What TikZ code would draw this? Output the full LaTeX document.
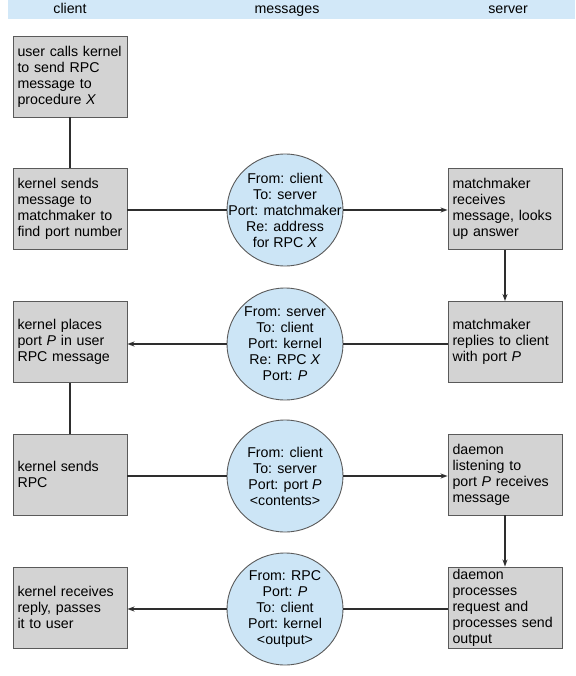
\documentclass[tikz,border=0pt]{standalone}
\usepackage{fontspec}
\setmainfont{Liberation Sans}
\usetikzlibrary{shapes.geometric,arrows.meta}
\definecolor{boxfill}{HTML}{D3D3D3}
\definecolor{boxline}{HTML}{5A5A5A}
\definecolor{msgfill}{HTML}{CCE5F6}
\definecolor{bandfill}{HTML}{D2E8F8}
\definecolor{conn}{HTML}{2E2E2E}
\tikzset{
  every node/.style={font=\fontsize{14.2}{16}\selectfont},
  stepbox/.style={draw=boxline, line width=0.9pt, fill=boxfill, text width=105pt, inner xsep=4.5pt, inner ysep=0pt, minimum height=81pt, align=left},
  msgshape/.style={ellipse, draw=boxline, line width=0.9pt, fill=msgfill, minimum width=116pt, minimum height=112pt, inner sep=0pt},
  msgtext/.style={align=center, inner sep=0pt},
  head/.style={inner sep=0pt, anchor=base},
  link/.style={draw=conn, line width=1.2pt},
  arr/.style={link, -{Stealth[length=7pt,width=5pt]}}
}
\begin{document}
\begin{tikzpicture}[x=1pt,y=-1pt]
\useasboundingbox (0,0) rectangle (575,676);
\fill[bandfill] (8,0) rectangle (575,19);
\node[head] (hc) at (70,14) {client};
\node[head] (hm) at (287,14) {messages};
\node[head] (hs) at (508,14) {server};

% left column
\node[stepbox] (l1) at (70,76.5) {user calls kernel\\to send RPC\\message to\\procedure \textit{X}};
\node[stepbox] (l2) at (70,209) {kernel sends\\message to\\matchmaker to\\find port number};
\node[stepbox] (l3) at (70,342) {kernel places\\port \textit{P} in user\\RPC message};
\node[stepbox] (l4) at (70,474.5) {kernel sends\\RPC};
\node[stepbox] (l5) at (70,607.5) {kernel receives\\reply, passes\\it to user};

% right column
\node[stepbox] (r1) at (505,209) {matchmaker\\receives\\message, looks\\up answer};
\node[stepbox] (r2) at (505,342) {matchmaker\\replies to client\\with port \textit{P}};
\node[stepbox] (r3) at (505,474.5) {daemon\\listening to\\port \textit{P} receives\\message};
\node[stepbox] (r4) at (505,607.5) {daemon\\processes\\request and\\processes send\\output};

% messages
\node[msgshape] (m1) at (285,210) {};
\node[msgtext] (t1) at (m1) {From: client\\To: server\\Port: matchmaker\\Re: address\\for RPC \textit{X}};
\node[msgshape] (m2) at (285,344) {};
\node[msgtext] (t2) at (m2) {From: server\\To: client\\Port: kernel\\Re: RPC \textit{X}\\Port: \textit{P}};
\node[msgshape] (m3) at (285,476) {};
\node[msgtext] (t3) at (m3) {From: client\\To: server\\Port: port \textit{P}\\<contents>};
\node[msgshape] (m4) at (285,609) {};
\node[msgtext] (t4) at (m4) {From: RPC\\Port: \textit{P}\\To: client\\Port: kernel\\<output>};

% connectors
\draw[link] (l1) -- (l2);
\draw[link] (l3) -- (l4);
\draw[arr] (r1) -- (r2);
\draw[arr] (r3) -- (r4);

\draw[link] (l2.east |- m1) -- (m1.west);
\draw[arr] (m1.east) -- (r1.west |- m1);
\draw[link] (r2.west |- m2) -- (m2.east);
\draw[arr] (m2.west) -- (l3.east |- m2);
\draw[link] (l4.east |- m3) -- (m3.west);
\draw[arr] (m3.east) -- (r3.west |- m3);
\draw[link] (r4.west |- m4) -- (m4.east);
\draw[arr] (m4.west) -- (l5.east |- m4);
\end{tikzpicture}
\end{document}
